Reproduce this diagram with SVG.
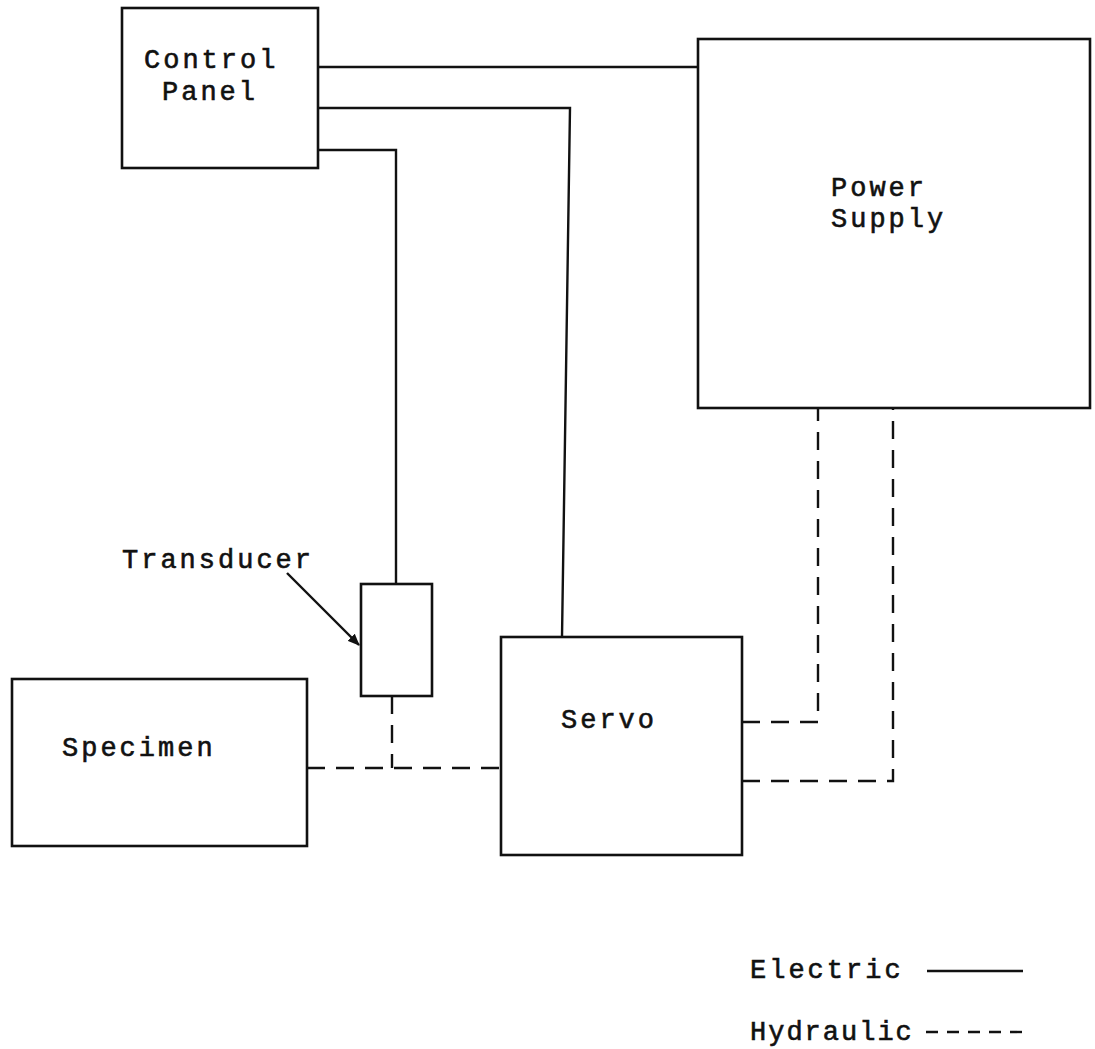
<svg xmlns="http://www.w3.org/2000/svg" width="1095" height="1049" viewBox="0 0 1095 1049">
<style>
.box{fill:#fff;stroke:#111;stroke-width:2.6}
.el{fill:none;stroke:#111;stroke-width:2.4}
.hy{fill:none;stroke:#111;stroke-width:2.4;stroke-dasharray:18 11}
.t{font-family:"Liberation Mono","Courier New",monospace;font-size:27px;letter-spacing:3px;fill:#111;stroke:#111;stroke-width:0.6}
.leg{stroke-dasharray:12 9}
</style>
<defs>
<marker id="arr" markerWidth="12" markerHeight="10" refX="11" refY="5" orient="auto" markerUnits="userSpaceOnUse">
<path d="M0,0 L12,5 L0,10 Z" fill="#111"/>
</marker>
</defs>
<rect width="1095" height="1049" fill="#fff"/>
<g id="connectors">
<path class="el" d="M318,67 H702"/>
<path class="el" d="M318,108 H570 L562,637"/>
<path class="el" d="M318,150 H396 V584"/>
<path class="hy" d="M392,696 V768"/>
<path class="hy" d="M307,768 H501"/>
<path class="hy" d="M742,722 H818 V407"/>
<path class="hy" d="M742,781 H893 V407"/>
<path class="el" d="M287,573 L359,645" marker-end="url(#arr)"/>
</g>
<g id="control-panel">
<rect class="box" x="122" y="8" width="196" height="160"/>
<text class="t" x="144" y="68">Control</text>
<text class="t" x="162" y="100">Panel</text>
</g>
<g id="power-supply">
<rect class="box" x="698" y="39" width="392" height="369"/>
<text class="t" x="831" y="196">Power</text>
<text class="t" x="831" y="227">Supply</text>
</g>
<g id="transducer">
<rect class="box" x="361" y="584" width="71" height="112"/>
<text class="t" x="122" y="568">Transducer</text>
</g>
<g id="specimen">
<rect class="box" x="12" y="679" width="295" height="167"/>
<text class="t" x="62" y="756">Specimen</text>
</g>
<g id="servo">
<rect class="box" x="501" y="637" width="241" height="218"/>
<text class="t" x="561" y="728">Servo</text>
</g>
<g id="legend">
<text class="t" x="750" y="978">Electric</text>
<path class="el" d="M927,971 H1023"/>
<text class="t" x="750" y="1040" style="letter-spacing:2px">Hydraulic</text>
<path class="el leg" d="M926,1032 H1025"/>
</g>
</svg>
